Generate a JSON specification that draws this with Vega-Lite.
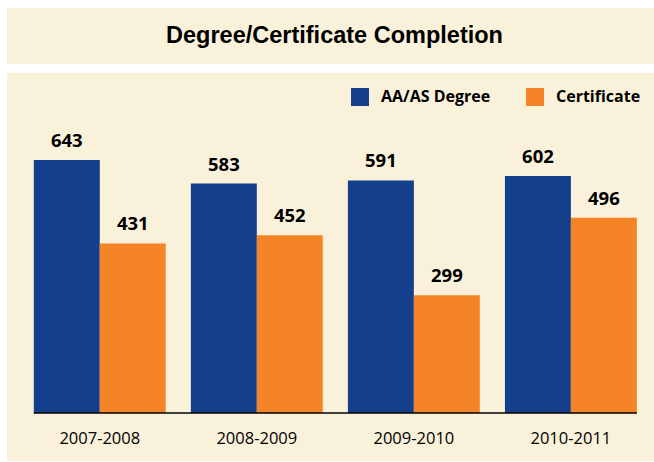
{
  "$schema": "https://vega.github.io/schema/vega-lite/v6.json",
  "background": "white",
  "padding": {"left": 7, "top": 8, "right": 0, "bottom": 1},
  "spacing": 9,
  "config": {"view": {"stroke": null}},
  "vconcat": [
    {
      "width": 647,
      "height": 56,
      "view": {"fill": "#FAF1DA", "stroke": null},
      "data": {"values": [{"title": "Degree/Certificate Completion"}]},
      "mark": {"type": "text", "font": "Liberation Sans", "fontWeight": "bold", "fontSize": 23.5, "color": "#000000", "align": "center", "baseline": "middle", "dx": 4},
      "encoding": {"text": {"field": "title", "type": "nominal"}}
    },
    {
      "width": 647,
      "height": 388,
      "view": {"fill": "#FAF1DA", "stroke": null},
      "layer": [
        {
          "data": {"values": [
            {"year": "2007-2008", "series": "AA/AS Degree", "value": 643},
            {"year": "2007-2008", "series": "Certificate", "value": 431},
            {"year": "2008-2009", "series": "AA/AS Degree", "value": 583},
            {"year": "2008-2009", "series": "Certificate", "value": 452},
            {"year": "2009-2010", "series": "AA/AS Degree", "value": 591},
            {"year": "2009-2010", "series": "Certificate", "value": 299},
            {"year": "2010-2011", "series": "AA/AS Degree", "value": 602},
            {"year": "2010-2011", "series": "Certificate", "value": 496}
          ]},
          "layer": [
            {
              "mark": {"type": "bar"},
              "encoding": {
                "x": {"field": "year", "type": "nominal", "sort": null,
                  "scale": {"paddingInner": 0.16, "paddingOuter": 0.14, "align": 0.61},
                  "axis": {"orient": "bottom", "offset": -48, "domain": false, "ticks": false, "labelPadding": 17, "labelAngle": 0, "labelFont": "Open Sans", "labelFontSize": 16.5, "labelColor": "#000000", "title": null}},
                "xOffset": {"field": "series", "type": "nominal", "sort": ["AA/AS Degree", "Certificate"], "scale": {"paddingInner": 0, "paddingOuter": 0}},
                "y": {"field": "value", "type": "quantitative", "scale": {"domain": [-122, 864], "nice": false, "zero": true}, "axis": null},
                "color": {"field": "series", "type": "nominal",
                  "scale": {"domain": ["AA/AS Degree", "Certificate"], "range": ["#143F8C", "#F58426"]},
                  "legend": {"orient": "none", "legendX": 344, "legendY": 80, "direction": "horizontal", "title": null, "symbolType": "square", "symbolSize": 324, "symbolStrokeWidth": 0, "symbolOpacity": 1, "labelFont": "Open Sans", "labelFontWeight": "bold", "labelFontSize": 16, "labelColor": "#000000", "labelOffset": 12, "columnPadding": 35, "padding": 0}}
              }
            },
            {
              "mark": {"type": "text", "font": "Open Sans", "fontWeight": "bold", "fontSize": 18.5, "color": "#000000", "baseline": "alphabetic", "dy": -13},
              "encoding": {
                "x": {"field": "year", "type": "nominal", "sort": null},
                "xOffset": {"field": "series", "type": "nominal", "sort": ["AA/AS Degree", "Certificate"]},
                "y": {"field": "value", "type": "quantitative"},
                "text": {"field": "value", "type": "quantitative"}
              }
            }
          ]
        },
        {
          "data": {"values": [{"start": "2007-2008", "end": "2010-2011"}]},
          "mark": {"type": "rule", "color": "#000000", "strokeWidth": 1.5},
          "encoding": {
            "x": {"field": "start", "type": "nominal", "bandPosition": 0},
            "x2": {"field": "end", "bandPosition": 1},
            "y": {"datum": 0, "type": "quantitative"}
          }
        }
      ]
    }
  ]
}
